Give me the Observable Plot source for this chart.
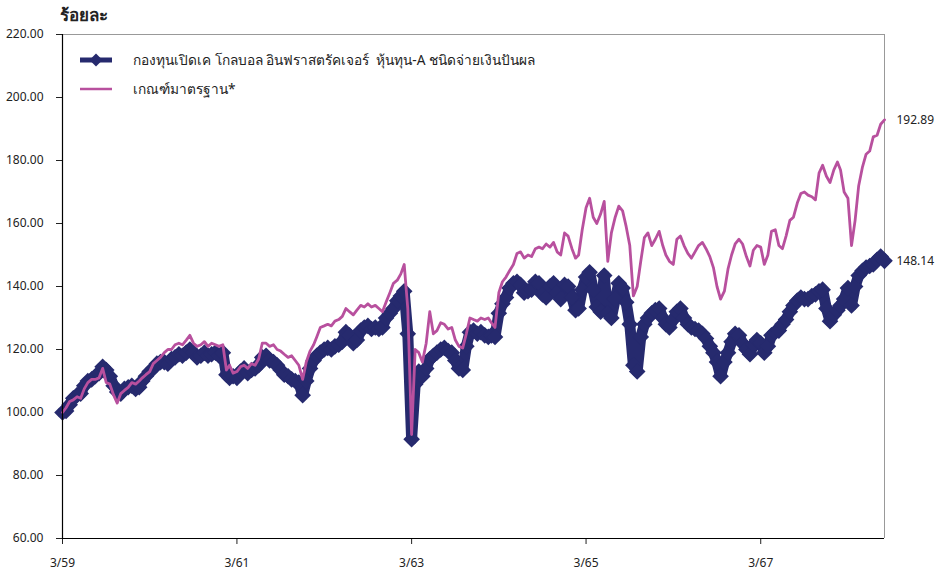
<!DOCTYPE html>
<html><head><meta charset="utf-8">
<script src="https://cdn.jsdelivr.net/npm/d3@7"></script>
<script src="https://cdn.jsdelivr.net/npm/@observablehq/plot@0.6"></script>
<style>
body{margin:0;background:#fff;font-family:Tahoma,"Noto Sans","DejaVu Sans",sans-serif;}
#wrap{position:relative;width:946px;height:574px;}
#title{position:absolute;left:60px;top:1px;font-size:17px;font-weight:bold;color:#222;}
#legend{position:absolute;left:80px;top:45px;font-size:13.7px;color:#222;}
#legend .row{display:flex;align-items:center;height:29px;}
#legend span{white-space:pre;}
#legend svg{margin-right:21px;}
</style></head>
<body><div id="wrap"><div id="chart"></div><div id="title"></div><div id="legend"></div></div>
<script>
const unitLabel = "ร้อยละ";
const seriesNames = ["กองทุนเปิดเค โกลบอล อินฟราสตรัคเจอร์  หุ้นทุน-A ชนิดจ่ายเงินปันผล", "เกณฑ์มาตรฐาน*"];
const seriesColors = ["#262a6e", "#b8509e"];
const yTicks = [60, 80, 100, 120, 140, 160, 180, 200, 220];
const xTickDates = ["2016-04-01", "2018-04-01", "2020-04-01", "2022-04-01", "2024-04-01"];
const xTickLabels = ["3/59", "3/61", "3/63", "3/65", "3/67"];

const dates = [
"2016-04-01","2016-04-16","2016-05-01","2016-05-16","2016-06-01","2016-06-16","2016-07-01","2016-07-16","2016-08-01","2016-08-16","2016-09-01","2016-09-16","2016-10-01","2016-10-16","2016-11-01","2016-11-16","2016-12-01","2016-12-16",
"2017-01-01","2017-01-16","2017-02-01","2017-02-16","2017-03-01","2017-03-16","2017-04-01","2017-04-16","2017-05-01","2017-05-16","2017-06-01","2017-06-16","2017-07-01","2017-07-16","2017-08-01","2017-08-16","2017-09-01","2017-09-16","2017-10-01","2017-10-16","2017-11-01","2017-11-16","2017-12-01","2017-12-16",
"2018-01-01","2018-01-16","2018-02-01","2018-02-16","2018-03-01","2018-03-16","2018-04-01","2018-04-16","2018-05-01","2018-05-16","2018-06-01","2018-06-16","2018-07-01","2018-07-16","2018-08-01","2018-08-16","2018-09-01","2018-09-16","2018-10-01","2018-10-16","2018-11-01","2018-11-16","2018-12-01","2018-12-16",
"2019-01-01","2019-01-16","2019-02-01","2019-02-16","2019-03-01","2019-03-16","2019-04-01","2019-04-16","2019-05-01","2019-05-16","2019-06-01","2019-06-16","2019-07-01","2019-07-16","2019-08-01","2019-08-16","2019-09-01","2019-09-16","2019-10-01","2019-10-16","2019-11-01","2019-11-16","2019-12-01","2019-12-16",
"2020-01-01","2020-01-16","2020-02-01","2020-02-16","2020-03-01","2020-03-16","2020-04-01","2020-04-16","2020-05-01","2020-05-16","2020-06-01","2020-06-16","2020-07-01","2020-07-16","2020-08-01","2020-08-16","2020-09-01","2020-09-16","2020-10-01","2020-10-16","2020-11-01","2020-11-16","2020-12-01","2020-12-16",
"2021-01-01","2021-01-16","2021-02-01","2021-02-16","2021-03-01","2021-03-16","2021-04-01","2021-04-16","2021-05-01","2021-05-16","2021-06-01","2021-06-16","2021-07-01","2021-07-16","2021-08-01","2021-08-16","2021-09-01","2021-09-16","2021-10-01","2021-10-16","2021-11-01","2021-11-16","2021-12-01","2021-12-16",
"2022-01-01","2022-01-16","2022-02-01","2022-02-16","2022-03-01","2022-03-16","2022-04-01","2022-04-16","2022-05-01","2022-05-16","2022-06-01","2022-06-16","2022-07-01","2022-07-16","2022-08-01","2022-08-16","2022-09-01","2022-09-16","2022-10-01","2022-10-16","2022-11-01","2022-11-16","2022-12-01","2022-12-16",
"2023-01-01","2023-01-16","2023-02-01","2023-02-16","2023-03-01","2023-03-16","2023-04-01","2023-04-16","2023-05-01","2023-05-16","2023-06-01","2023-06-16","2023-07-01","2023-07-16","2023-08-01","2023-08-16","2023-09-01","2023-09-16","2023-10-01","2023-10-16","2023-11-01","2023-11-16","2023-12-01","2023-12-16",
"2024-01-01","2024-01-16","2024-02-01","2024-02-16","2024-03-01","2024-03-16","2024-04-01","2024-04-16","2024-05-01","2024-05-16","2024-06-01","2024-06-16","2024-07-01","2024-07-16","2024-08-01","2024-08-16","2024-09-01","2024-09-16","2024-10-01","2024-10-16","2024-11-01","2024-11-16","2024-12-01","2024-12-16",
"2025-01-01","2025-01-16","2025-02-01","2025-02-16","2025-03-01","2025-03-16","2025-04-01","2025-04-16","2025-05-01","2025-05-16","2025-06-01","2025-06-16","2025-07-01","2025-07-16","2025-08-01","2025-08-16","2025-09-01"
];

const benchmark = [
100,101.5,103.5,104,105,104.5,107.5,109.5,110.5,110.5,
111,114,109.5,109,105.5,103,106,107,108,109.5,
109,110,111,112,113,115.5,116.5,117.5,119,120,
120,121.5,122,121.5,123,124.5,122,121,121.5,122.5,
121,122,121.5,121,121.5,113.5,115,112.5,113,114.5,
115,114,115.5,115,117,122,122,121,121.5,120,
119.5,118.5,117.5,118,116.5,115,110.5,116,119.5,121.5,
124,127,127.5,128,127.5,129,129.5,130.5,133,132,
131,132.5,134,133.5,134.5,133.5,134,133,132,135,
138,141,142,144,147,133,93,120,119,116,
122,132,125,126,128.5,128,126.5,127,123,121,
120.5,125,130,129.5,129,130,129.5,130,128.5,127,
138,141.5,143,145,147,150.5,151,149,150,149.5,
152,152.5,152,153.5,152.5,154,151,150,157,156,
152,149,150,158,165,168,162,160,163,167,
148,157,162,165.5,164,159,153,137,140,148,
155.5,157,153,155,157.5,153,150,148,147,155,
156,153,150.5,149,151,153,154,152,149.5,146,
140,136,138.5,145.5,150,153.5,155,153.5,149.5,146.5,
151.5,153,152.5,147,150,157.5,158,153,152,156,
161,162,166.5,169.5,170,169,168.5,167.5,176,178.5,
175,173,177,179.5,177,170,168,153,161,172,
178,182,183,187.5,188,191.5,192.89
];

const fund = [
100,100.5,102.5,104.5,105.5,106,108.5,110,110.5,111.5,
112.5,114.5,113.5,111.5,108.5,106.5,106,107.5,108,108.5,
107.5,108,110,111.5,113,114,115.5,116,116,115.5,
117,117.5,118.5,118,119,120,119,117.5,118,119,
118,118.5,119,118,119,112,111,111.5,111,113,
114,112.5,113.5,114,115,117.5,118,116.5,116,115,
113.5,112,111.5,110.5,110,109.5,105.5,110,114,116.5,
118,119,120,120.5,120,121,121.5,122.5,125.5,124.5,
122,123,126,127,127.5,126.5,127,126.5,127,130,
131.5,133,135.5,137,138.5,125,91.5,109,113,111.5,
114,117,118,119,120,120.5,119.5,119,116.5,114,
113.5,121,125.5,126,125,125.5,124.5,124,124.5,124,
131.5,134.5,136.5,139.5,141,141.5,140.5,138,138.5,139,
141.5,141,137.5,136.5,140,141,138,136,140.5,140,
136.5,132.5,133,139,143,144.5,139,133.5,132,143.5,
131.5,130,136,141,139.5,135,128,115,113,124,
128,130,131.5,132.5,133,130,128,127,129.5,132,
133,130,128,127,126.5,126,125,123.5,121,119,
116,111.5,116,119,122.5,125,124.5,122,120,118.5,
121.5,123,122,119,121,124.5,125.5,126,128,129.5,
132,134,135.5,136.5,136,136,137,137.5,138.5,139,
133,129,131,132.5,134,136,139.5,134,140,143.5,
145,146,146.5,147,148.5,149.5,148.14
];

const parse = d3.utcParse("%Y-%m-%d");
const fundData = dates.map((d, i) => ({date: parse(d), value: fund[i]}));
const benchData = dates.map((d, i) => ({date: parse(d), value: benchmark[i]}));
const xDomain = [parse(dates[0]), parse(dates[dates.length - 1])];
const tickDates = xTickDates.map(parse);
const endPoints = [benchData[benchData.length - 1], fundData[fundData.length - 1]];
const fmt = d3.format(".2f");

const chart = Plot.plot({
  width: 946, height: 574,
  marginTop: 34, marginLeft: 62, marginRight: 62, marginBottom: 36,
  style: {fontFamily: 'Tahoma, "Noto Sans", "DejaVu Sans", sans-serif', fontSize: "12px", color: "#222", background: "white", overflow: "visible"},
  x: {type: "utc", domain: xDomain, ticks: tickDates, tickFormat: d => xTickLabels[tickDates.findIndex(t => +t === +d)], tickSize: 6, tickPadding: 14, label: null},
  y: {domain: [60, 220], ticks: yTicks, tickFormat: fmt, tickSize: 6, tickPadding: 13, label: null},
  marks: [
    Plot.ruleY([220], {stroke: "#999", strokeWidth: 1}),
    Plot.ruleX([xDomain[1]], {stroke: "#999", strokeWidth: 1}),
    Plot.line(fundData, {x: "date", y: "value", stroke: seriesColors[0], strokeWidth: 11, strokeLinejoin: "round"}),
    Plot.dot(fundData, {x: "date", y: "value", symbol: "diamond2", r: 7.5, fill: seriesColors[0], stroke: "none"}),
    Plot.line(benchData, {x: "date", y: "value", stroke: seriesColors[1], strokeWidth: 2.8}),
    Plot.ruleY([60], {stroke: "#000", strokeWidth: 1.2}),
    Plot.ruleX([xDomain[0]], {stroke: "#000", strokeWidth: 1.2}),
    Plot.text(endPoints, {x: "date", y: "value", text: d => fmt(d.value), dx: 12, textAnchor: "start", fill: "#222", fontSize: 12})
  ]
});
document.getElementById("chart").append(chart);
document.getElementById("title").textContent = unitLabel;

const legend = document.getElementById("legend");
seriesNames.forEach((name, i) => {
  const row = document.createElement("div");
  row.className = "row";
  const c = seriesColors[i];
  const sw = i === 0
    ? `<svg width="32" height="14"><line x1="0" y1="7" x2="32" y2="7" stroke="${c}" stroke-width="5"/><path d="M16,0.5L22.5,7L16,13.5L9.5,7Z" fill="${c}"/></svg>`
    : `<svg width="32" height="14"><line x1="0" y1="7" x2="32" y2="7" stroke="${c}" stroke-width="2.5"/></svg>`;
  row.innerHTML = sw + `<span>${name}</span>`;
  legend.append(row);
});
</script>
</body></html>
